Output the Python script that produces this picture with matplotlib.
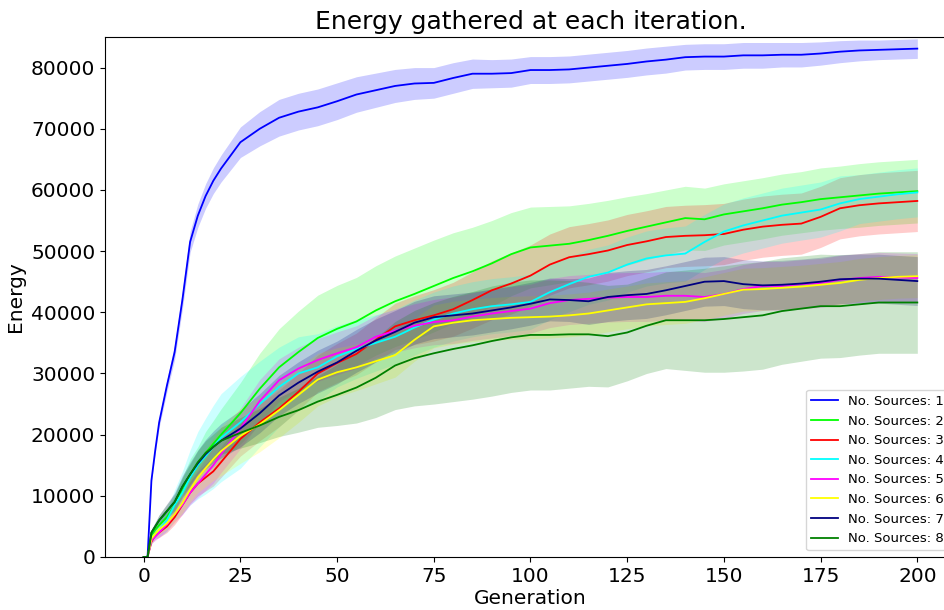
import matplotlib
matplotlib.use("Agg")
import matplotlib.pyplot as plt
import numpy as np

generations = [0, 1, 2, 3, 4, 6, 8, 10, 12, 14, 16, 18, 20, 25, 30, 35, 40, 45, 50, 55,
               60, 65, 70, 75, 80, 85, 90, 95, 100, 105, 110, 115, 120, 125, 130, 135, 140, 145, 150, 155,
               160, 165, 170, 175, 180, 185, 190, 195, 200]

mean_1 = [0, 0, 12500, 17500, 22000, 28000, 33500, 42000, 51500, 55800, 59000, 61500, 63500, 67800, 70000, 71800, 72800, 73500, 74500, 75600,
          76300, 77000, 77400, 77500, 78300, 79000, 79000, 79100, 79600, 79600, 79700, 80000, 80300, 80600, 81000, 81300, 81700, 81800, 81800, 82000,
          82000, 82100, 82100, 82300, 82600, 82800, 82900, 83000, 83100]
std_1 = [0, 0, 300, 500, 800, 1000, 1200, 1500, 1700, 1900, 2000, 2100, 2200, 2500, 2800, 3000, 3000, 3000, 3000, 2900,
         2800, 2700, 2600, 2500, 2500, 2400, 2300, 2300, 2200, 2200, 2200, 2200, 2200, 2200, 2200, 2200, 2100, 2100, 2100, 2100,
         2100, 2000, 2000, 1900, 1800, 1700, 1600, 1600, 1600]

mean_2 = [0, 0, 3500, 4500, 5200, 6500, 8500, 11000, 13500, 15000, 17000, 18500, 20000, 23500, 27500, 31000, 33500, 35800, 37300, 38500,
          40300, 41800, 43000, 44300, 45600, 46700, 48000, 49500, 50600, 50900, 51200, 51800, 52500, 53300, 54000, 54700, 55400, 55200, 56000, 56500,
          57000, 57600, 58000, 58500, 58800, 59100, 59400, 59600, 59800]
std_2 = [0, 0, 500, 700, 900, 1200, 1500, 2000, 2500, 3000, 3500, 3800, 4200, 5000, 5800, 6300, 6700, 7000, 7100, 7200,
         7300, 7400, 7500, 7500, 7400, 7200, 7000, 6800, 6600, 6400, 6200, 6000, 5800, 5600, 5400, 5300, 5200, 5100, 5000, 5000,
         5000, 5000, 5000, 5100, 5100, 5200, 5200, 5200, 5200]

mean_3 = [0, 0, 2500, 3500, 4000, 5000, 6500, 8500, 10500, 12000, 13000, 14000, 15500, 19300, 22000, 24300, 27000, 30000, 31700, 33200,
          35500, 37700, 38700, 39500, 40500, 42000, 43600, 44700, 46000, 47800, 49000, 49500, 50100, 51000, 51600, 52300, 52500, 52600, 52800, 53500,
          54000, 54300, 54500, 55600, 57000, 57500, 57800, 58000, 58200]
std_3 = [0, 0, 400, 600, 800, 1000, 1200, 1500, 1800, 2000, 2200, 2400, 2500, 2800, 3000, 3000, 3000, 3000, 3200, 3400,
         3600, 3800, 4000, 4200, 4400, 4600, 4800, 5000, 5000, 5000, 5000, 5000, 5000, 5000, 5000, 5000, 5000, 5000, 5000, 5000,
         5000, 5000, 5000, 5000, 5000, 5000, 5000, 5000, 5000]

mean_4 = [0, 0, 2800, 3800, 4500, 6000, 8500, 10500, 13000, 15000, 16500, 18000, 19500, 22000, 25000, 27800, 30000, 31000, 32800, 34000,
          35000, 36000, 37500, 38800, 39800, 40500, 41000, 41300, 41700, 43300, 44600, 45800, 46500, 47800, 48800, 49300, 49600, 51500, 53200, 54200,
          55000, 55800, 56300, 56800, 57800, 58500, 58900, 59300, 59600]
std_4 = [0, 0, 600, 900, 1200, 1800, 2500, 3500, 4500, 5500, 6200, 6800, 7200, 7500, 7000, 6500, 6000, 5500, 5000, 4800,
         4600, 4500, 4500, 4500, 4500, 4500, 4500, 4500, 4500, 4500, 4500, 4500, 4500, 4500, 4500, 4500, 4500, 4500, 4500, 4500,
         4500, 4500, 4500, 4500, 4500, 4000, 4000, 4000, 4000]

mean_5 = [0, 0, 2700, 3300, 4000, 5300, 7000, 8500, 10500, 12000, 13500, 15000, 16800, 21000, 25500, 28900, 30800, 32200, 33300, 34300,
          36000, 37000, 37800, 38400, 38700, 39300, 39800, 40200, 40600, 41500, 42000, 42200, 42400, 42500, 42500, 42700, 42700, 42500, 43000, 43800,
          44300, 44300, 44600, 44800, 45300, 45600, 45800, 45700, 45600]
std_5 = [0, 0, 400, 600, 800, 1000, 1300, 1600, 2000, 2300, 2600, 2900, 3000, 3300, 3500, 3500, 3500, 3500, 3500, 3500,
         3500, 3500, 3600, 3700, 3800, 3900, 4000, 4000, 4000, 4000, 4000, 4000, 4000, 4000, 4000, 4000, 4000, 4000, 4000, 4000,
         4000, 4000, 4000, 4000, 4000, 4000, 4000, 4000, 4000]

mean_6 = [0, 0, 3000, 3800, 4500, 5500, 7000, 8800, 11000, 13000, 14500, 16000, 17300, 19800, 21700, 24000, 26500, 29000, 30200, 31000,
          32000, 33000, 35500, 37700, 38300, 38700, 38900, 39100, 39200, 39300, 39500, 39800, 40300, 40800, 41300, 41500, 41700, 42300, 43000, 43700,
          43800, 44000, 44200, 44500, 44800, 45300, 45600, 45800, 45900]
std_6 = [0, 0, 400, 600, 800, 1000, 1300, 1600, 2000, 2500, 3000, 3500, 4000, 4500, 4500, 4500, 4500, 4300, 4000, 3800,
         3700, 3600, 3500, 3500, 3500, 3500, 3500, 3500, 3500, 3500, 3500, 3500, 3500, 3500, 3500, 3500, 3500, 3500, 3500, 3500,
         3500, 3500, 3500, 3500, 3500, 3500, 3500, 3500, 3500]

mean_7 = [0, 0, 4000, 5000, 6000, 7500, 9000, 11500, 13500, 15300, 16800, 18000, 19000, 21000, 23500, 26400, 28500, 30300, 31800, 33700,
          35400, 36800, 38300, 39200, 39500, 39800, 40300, 40800, 41400, 42100, 42000, 41800, 42500, 42800, 43000, 43600, 44300, 45000, 45100, 44600,
          44400, 44500, 44700, 45000, 45400, 45500, 45500, 45300, 45100]
std_7 = [0, 0, 500, 700, 900, 1200, 1500, 1800, 2000, 2200, 2400, 2600, 2800, 3000, 3200, 3300, 3400, 3500, 3500, 3500,
         3500, 3500, 3500, 3500, 3500, 3500, 3500, 3500, 3500, 3500, 3500, 3800, 4000, 4000, 4000, 4000, 4000, 4000, 4000, 4000,
         4000, 4000, 4000, 4000, 4000, 4000, 4000, 4000, 4000]

mean_8 = [0, 0, 4000, 5000, 6000, 7500, 9000, 11500, 13500, 15500, 17000, 18000, 19000, 20300, 21500, 22900, 24000, 25400, 26500, 27700,
          29300, 31300, 32500, 33300, 34000, 34600, 35300, 35900, 36300, 36300, 36400, 36400, 36100, 36700, 37800, 38700, 38700, 38700, 38900, 39200,
          39500, 40200, 40600, 41000, 41000, 41300, 41600, 41600, 41600]
std_8 = [0, 0, 500, 700, 900, 1100, 1300, 1500, 1700, 1900, 2000, 2100, 2200, 2500, 2800, 3200, 3600, 4200, 5000, 5800,
         6500, 7200, 7800, 8300, 8600, 8800, 9000, 9000, 9000, 9000, 8800, 8500, 8300, 7900, 7800, 7900, 8200, 8500, 8700, 8800,
         8800, 8700, 8600, 8500, 8400, 8300, 8300, 8300, 8300]

labels = ["No. Sources: %d" % i for i in range(1, 9)]
colors = ["blue", "lime", "red", "cyan", "magenta", "yellow", "navy", "green"]
means = [mean_1, mean_2, mean_3, mean_4, mean_5, mean_6, mean_7, mean_8]
stds = [std_1, std_2, std_3, std_4, std_5, std_6, std_7, std_8]

fig = plt.figure(figsize=(9.45, 6.1), dpi=100)
ax = fig.add_axes([105 / 945, 53 / 610, (956 - 105) / 945, 520 / 610])

x = np.array(generations)
for m, s, c, lab in zip(means, stds, colors, labels):
    m = np.array(m, dtype=float)
    s = np.array(s, dtype=float)
    ax.plot(x, m, color=c, lw=1.3, label=lab)
    ax.fill_between(x, m - s, m + s, color=c, alpha=0.2, lw=0)

ax.set_xlim(-10, 210)
ax.set_ylim(0, 85000)
ax.set_xticks([0, 25, 50, 75, 100, 125, 150, 175, 200])
ax.set_yticks(range(0, 80001, 10000))
ax.tick_params(labelsize=14.5)
ax.set_title("Energy gathered at each iteration.", fontsize=18)
ax.set_xlabel("Generation", fontsize=14.5, labelpad=2)
ax.set_ylabel("Energy", fontsize=14.5)
ax.legend(loc="lower right", fontsize=9.5)

fig.savefig("out.png", dpi=100)
